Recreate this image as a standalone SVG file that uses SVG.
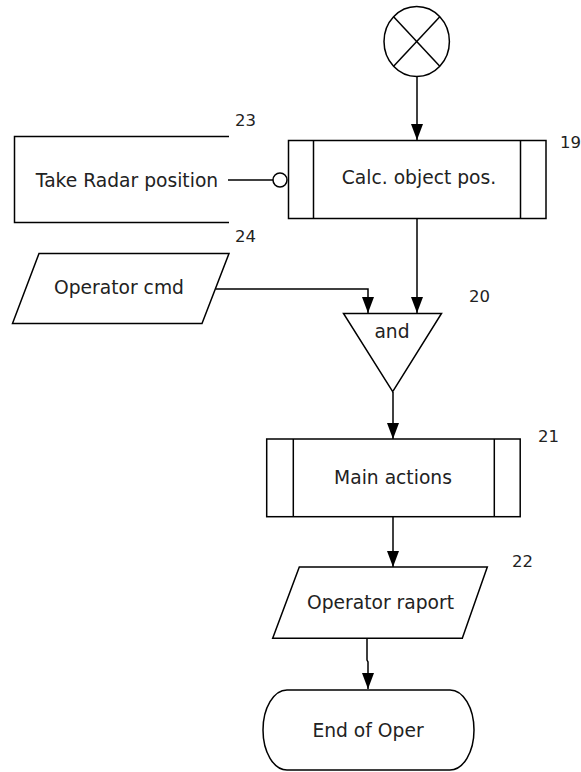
<svg xmlns="http://www.w3.org/2000/svg" width="581" height="772" viewBox="0 0 581 772">
<defs>
<marker id="arr" viewBox="0 0 16 12" markerWidth="16" markerHeight="12" refX="16" refY="6" orient="auto" markerUnits="userSpaceOnUse">
<path d="M0,0 L16,6 L0,12 Z" fill="#000"/>
</marker>
<style>
.s{fill:#fff;stroke:#000;stroke-width:1.5}
.o{fill:none;stroke:#000;stroke-width:1.5}
.t{font-family:"DejaVu Sans",sans-serif;font-size:18.7px;fill:#222;text-anchor:middle}
.n{font-family:"DejaVu Sans",sans-serif;font-size:16.5px;fill:#222}
.c{fill:none;stroke:#000;stroke-width:1.5}
</style>
</defs>
<rect width="581" height="772" fill="#fff"/>
<g id="connectors">
<line class="c" x1="417" y1="77" x2="417" y2="140" marker-end="url(#arr)"/>
<line class="c" x1="417" y1="218" x2="417" y2="313" marker-end="url(#arr)"/>
<polyline class="c" points="216,289 368,289 368,313" marker-end="url(#arr)"/>
<line class="c" x1="393" y1="392" x2="393" y2="439" marker-end="url(#arr)"/>
<line class="c" x1="393" y1="517" x2="393" y2="567" marker-end="url(#arr)"/>
<polyline class="c" points="367,638 367,660 368,662 368,689" marker-end="url(#arr)"/>
<line class="c" x1="228" y1="180" x2="273" y2="180"/>
<circle class="s" cx="280" cy="180" r="7"/>
</g>
<g id="start">
<ellipse class="s" cx="416.7" cy="41.5" rx="32.7" ry="35"/>
<line class="o" x1="393.6" y1="16.7" x2="439.8" y2="66.3"/>
<line class="o" x1="439.8" y1="16.7" x2="393.6" y2="66.3"/>
</g>
<g id="n19">
<rect class="s" x="288.5" y="140.5" width="257.5" height="78"/>
<line class="o" x1="313.5" y1="140.5" x2="313.5" y2="218.5"/>
<line class="o" x1="520.5" y1="140.5" x2="520.5" y2="218.5"/>
<text class="t" x="419" y="184">Calc. object pos.</text>
<text class="n" x="560" y="148">19</text>
</g>
<g id="n23">
<polyline class="o" points="229,136.5 14.5,136.5 14.5,222.5 229,222.5"/>
<text class="t" x="127" y="187">Take Radar position</text>
<text class="n" x="235" y="126">23</text>
<text class="n" x="235" y="242">24</text>
</g>
<g id="n24">
<polygon class="s" points="39,253.5 229,253.5 202,323.5 12.5,323.5"/>
<text class="t" x="119" y="294">Operator cmd</text>
</g>
<g id="n20">
<polygon class="s" points="343.5,313.5 441.5,313.5 392.7,391.7"/>
<text class="t" x="392" y="338">and</text>
<text class="n" x="469" y="302">20</text>
</g>
<g id="n21">
<rect class="s" x="266.7" y="439" width="253.5" height="77.7"/>
<line class="o" x1="293.3" y1="439" x2="293.3" y2="516.7"/>
<line class="o" x1="494.3" y1="439" x2="494.3" y2="516.7"/>
<text class="t" x="393" y="484">Main actions</text>
<text class="n" x="538" y="442">21</text>
</g>
<g id="n22">
<polygon class="s" points="299.3,567 487.3,567 462.3,638.3 272.7,638.3"/>
<text class="t" x="380.5" y="608.5">Operator raport</text>
<text class="n" x="512" y="567">22</text>
</g>
<g id="end">
<path class="s" d="M287,690 H450 A24,40 0 0 1 450,770 H287 A24,40 0 0 1 287,690 Z"/>
<text class="t" x="368" y="737">End of Oper</text>
</g>
</svg>
